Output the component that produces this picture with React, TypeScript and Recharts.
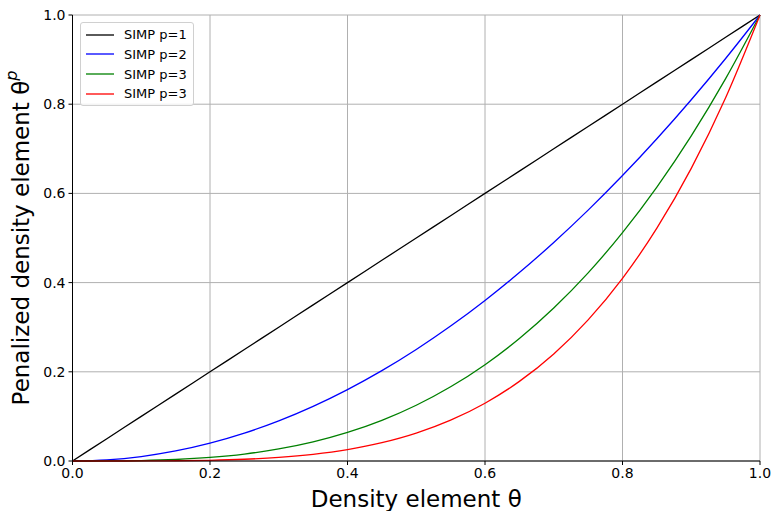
import React from 'react';
import { LineChart, Line, XAxis, YAxis, CartesianGrid } from 'recharts';

const thetas = [0, 0.05, 0.1, 0.15, 0.2, 0.25, 0.3, 0.35, 0.4, 0.45, 0.5, 0.55, 0.6, 0.65, 0.7, 0.75, 0.8, 0.85, 0.9, 0.95, 1];
const simp1 = [0, 0.05, 0.1, 0.15, 0.2, 0.25, 0.3, 0.35, 0.4, 0.45, 0.5, 0.55, 0.6, 0.65, 0.7, 0.75, 0.8, 0.85, 0.9, 0.95, 1];
const simp2 = [0, 0.0025, 0.01, 0.0225, 0.04, 0.0625, 0.09, 0.1225, 0.16, 0.2025, 0.25, 0.3025, 0.36, 0.4225, 0.49, 0.5625, 0.64, 0.7225, 0.81, 0.9025, 1];
const simp3 = [0, 0.000125, 0.001, 0.003375, 0.008, 0.015625, 0.027, 0.042875, 0.064, 0.091125, 0.125, 0.166375, 0.216, 0.274625, 0.343, 0.421875, 0.512, 0.614125, 0.729, 0.857375, 1];
const simp4 = [0, 0.00000625, 0.0001, 0.000506, 0.0016, 0.003906, 0.0081, 0.015006, 0.0256, 0.041006, 0.0625, 0.091506, 0.1296, 0.178506, 0.2401, 0.316406, 0.4096, 0.522006, 0.6561, 0.814506, 1];
const tickValues = [0, 0.2, 0.4, 0.6, 0.8, 1.0];
const seriesNames = ['SIMP p=1', 'SIMP p=2', 'SIMP p=3', 'SIMP p=3'];
const seriesColors = ['#000000', '#0000ff', '#008000', '#ff0000'];
const seriesKeys = ['s1', 's2', 's3', 's4'];

const data = thetas.map((t, i) => ({ t, s1: simp1[i], s2: simp2[i], s3: simp3[i], s4: simp4[i] }));

const FONT = 'DejaVu Sans, sans-serif';

const LegendBox = () => (
  <div style={{
    position: 'absolute', left: 80, top: 22, width: 112, height: 82, border: '1px solid #d0d0d0', borderRadius: 3,
    background: 'rgba(255,255,255,0.8)', fontFamily: FONT, fontSize: 13
  }}>
    {seriesNames.map((n, i) => (
      <div key={i} style={{ position: 'absolute', left: 0, top: 1.5 + i * 19.8, height: 20, display: 'flex', alignItems: 'center' }}>
        <svg width={34} height={4} style={{ display: 'block' }}>
          <line x1={5} y1={2} x2={33} y2={2} stroke={seriesColors[i]} strokeWidth={1.3} />
        </svg>
        <span style={{ marginLeft: 9, color: '#000', whiteSpace: 'nowrap' }}>{n}</span>
      </div>
    ))}
  </div>
);

const YLabel = (props: any) => {
  const vb = props.viewBox || {};
  const cx = 21;
  const cy = vb.y + vb.height / 2;
  return (
    <text x={cx} y={cy} transform={`rotate(-90, ${cx}, ${cy})`} textAnchor="middle" dominantBaseline="central"
      fontFamily={FONT} fontSize={23} fill="#000">
      Penalized density element θ
      <tspan fontStyle="italic" fontSize={16} dy={-10}>p</tspan>
    </text>
  );
};

export default function App() {
  return (
    <div style={{ position: 'absolute', left: 0, top: 0, width: 771, height: 511, background: '#fff' }}>
      <LineChart width={771} height={511} data={data} margin={{ top: 15, right: 11, bottom: 0, left: 0 }}>
        <CartesianGrid stroke="#b0b0b0" strokeWidth={1} horizontalValues={tickValues} verticalValues={tickValues} />
        <XAxis dataKey="t" type="number" domain={[0, 1]} ticks={tickValues} height={50}
          tickFormatter={(v: number) => v.toFixed(1)} tickSize={4} tickMargin={3}
          stroke="#000" tick={{ fill: '#000', fontSize: 14, fontFamily: FONT }}
          label={{ value: 'Density element θ', position: 'insideBottom', offset: 4, fontSize: 23, fontFamily: FONT, fill: '#000' }} />
        <XAxis xAxisId="top" orientation="top" dataKey="t" type="number" domain={[0, 1]} height={0} tick={false} tickLine={false} stroke="#000" />
        <YAxis type="number" domain={[0, 1]} ticks={tickValues} width={72.5}
          tickFormatter={(v: number) => v.toFixed(1)} tickSize={4} tickMargin={3}
          stroke="#000" tick={{ fill: '#000', fontSize: 14, fontFamily: FONT }}
          label={<YLabel />} />
        <YAxis yAxisId="right" orientation="right" type="number" domain={[0, 1]} width={0} tick={false} tickLine={false} stroke="#000" />
        {seriesKeys.map((k, i) => (
          <Line key={k} dataKey={k} name={seriesNames[i]} type="monotone" stroke={seriesColors[i]} strokeWidth={1.3}
            dot={false} isAnimationActive={false} />
        ))}
      </LineChart>
      <LegendBox />
    </div>
  );
}
